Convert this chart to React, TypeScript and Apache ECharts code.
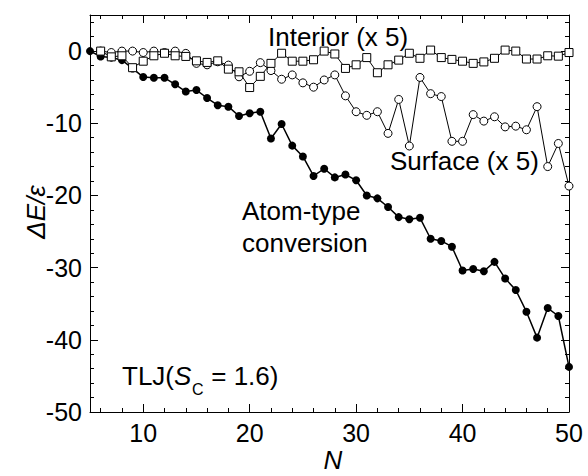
import React, { useEffect, useRef } from "react";
import * as echarts from "echarts";

const nValues = [
  5, 6, 7, 8, 9, 10, 11, 12, 13, 14, 15, 16, 17, 18, 19, 20, 21, 22, 23, 24, 25, 26, 27,
  28, 29, 30, 31, 32, 33, 34, 35, 36, 37, 38, 39, 40, 41, 42, 43, 44, 45, 46, 47, 48, 49, 50,
];

const atomType = [
  0, -0.75, -0.9, -1.25, -2.4, -3.6, -3.7, -3.7, -4.6, -5.6, -5.4, -6.5, -7.5, -7.7, -9.0,
  -8.6, -8.4, -12.1, -10.1, -13.1, -14.6, -17.3, -16.3, -17.5, -17.1, -17.9, -20.0, -20.4,
  -21.6, -23.0, -23.3, -23.1, -26.0, -26.3, -27.1, -30.4, -30.2, -30.5, -29.2, -31.5, -33.1,
  -36.1, -39.7, -35.6, -36.7, -43.75,
];

const surface = [
  null, 0, -0.2, 0, 0, -0.2, 0, -0.2, 0, -0.32, -1.7, -1.9, -1.48, -1.94, -3.56, -2.8, -1.6,
  -2.7, -3.9, -3.3, -4.4, -5.0, -4.0, -3.3, -6.2, -8.4, -8.9, -8.4, -11.4, -6.7, -13.15,
  -3.65, -5.9, -6.3, -12.5, -12.5, -8.8, -9.7, -9.1, -10.5, -10.4, -10.9, -7.7, -16.0,
  -12.8, -18.7,
];

const interior = [
  null, 0, -0.8, -0.65, -2.3, -1.4, -0.65, -0.3, -0.65, -0.74, -1.35, -1.57, -1.35, -2.5,
  -2.87, -5.05, -3.5, -1.7, -0.3, -1.4, -1.4, -1.2, 0, -0.4, -2.4, -1.9, -0.9, -3.0, -1.9,
  -1.25, -0.3, -1.0, 0.14, -0.9, -1.15, -1.4, -1.7, -1.5, -1.0, 0.14, 0, -1.1, -1.1, -0.65,
  -0.7, -0.2,
];

const xRange = [5, 50];
const yRange = [-50, 5];
const yInterval = 10;

const FONT = "'Liberation Sans', Arial, Helvetica, sans-serif";

const pairs = (ys: (number | null)[]) => nValues.map((n, i) => [n, ys[i]]);

export default function App() {
  const ref = useRef<HTMLDivElement>(null);

  useEffect(() => {
    if (!ref.current) return;
    const chart = echarts.init(ref.current, undefined, { renderer: "svg" });

    const axisCommon = {
      axisLine: { show: true, onZero: false, lineStyle: { color: "#000", width: 1 } },
      axisTick: { show: true, inside: true, length: 8, lineStyle: { color: "#000", width: 1 } },
      minorTick: { show: true, splitNumber: 5, length: 4, lineStyle: { color: "#000", width: 1 } },
      splitLine: { show: false },
      minorSplitLine: { show: false },
    };

    const xBase = { type: "value", min: xRange[0], max: xRange[1], ...axisCommon };
    const yBase = { type: "value", min: yRange[0], max: yRange[1], interval: yInterval, ...axisCommon };

    const text = (x: number, y: number, t: string, extra: any = {}) => ({
      type: "text",
      x,
      y,
      silent: true,
      style: {
        text: t,
        fill: "#000",
        fontSize: 26,
        fontFamily: FONT,
        align: "left",
        verticalAlign: "middle",
        ...extra,
      },
    });

    chart.setOption({
      animation: false,
      backgroundColor: "#fff",
      grid: { left: 90, right: 19, top: 15, bottom: 64, containLabel: false },
      xAxis: [
        {
          ...xBase,
          position: "bottom",
          axisLabel: {
            show: true,
            showMinLabel: false,
            color: "#000",
            fontSize: 25,
            fontFamily: FONT,
            margin: 8,
          },
        },
        { ...xBase, position: "top", axisLabel: { show: false } },
      ],
      yAxis: [
        {
          ...yBase,
          position: "left",
          axisLabel: {
            show: true,
            showMaxLabel: false,
            color: "#000",
            fontSize: 25,
            fontFamily: FONT,
            margin: 8,
          },
        },
        { ...yBase, position: "right", axisLabel: { show: false } },
      ],
      series: [
        {
          name: "Atom-type conversion",
          type: "line",
          data: pairs(atomType),
          xAxisIndex: 0,
          yAxisIndex: 0,
          symbol: "circle",
          symbolSize: 8,
          lineStyle: { color: "#000", width: 1.5 },
          itemStyle: { color: "#000" },
          z: 2,
        },
        {
          name: "Surface (x 5)",
          type: "line",
          data: pairs(surface),
          xAxisIndex: 0,
          yAxisIndex: 0,
          symbol: "circle",
          symbolSize: 8,
          showAllSymbol: true,
          lineStyle: { color: "#000", width: 1 },
          itemStyle: { color: "#fff", borderColor: "#000", borderWidth: 1 },
          z: 3,
        },
        {
          name: "Interior (x 5)",
          type: "line",
          data: pairs(interior),
          xAxisIndex: 0,
          yAxisIndex: 0,
          symbol: "rect",
          symbolSize: 8,
          showAllSymbol: true,
          lineStyle: { color: "#000", width: 1 },
          itemStyle: { color: "#fff", borderColor: "#000", borderWidth: 1 },
          z: 4,
        },
      ],
      graphic: [
        text(268, 37, "Interior (x 5)"),
        text(390, 161, "Surface (x 5)"),
        text(242, 211, "Atom-type"),
        text(242, 243, "conversion"),
        text(122, 376, "TLJ("),
        text(174, 376, "S", { fontStyle: "italic" }),
        text(192, 389, "C", { fontSize: 16 }),
        text(204, 376, " = 1.6)"),
        {
          type: "text",
          x: 36,
          y: 212,
          rotation: Math.PI / 2,
          silent: true,
          style: {
            text: "ΔE/ε",
            fill: "#000",
            fontSize: 26,
            fontStyle: "italic",
            fontFamily: FONT,
            align: "center",
            verticalAlign: "middle",
          },
        },
        text(333, 460, "N", { fontStyle: "italic", align: "center" }),
      ],
    });

    return () => chart.dispose();
  }, []);

  return (
    <div
      ref={ref}
      style={{ position: "absolute", left: 0, top: 0, width: 588, height: 476, background: "#fff" }}
    />
  );
}
